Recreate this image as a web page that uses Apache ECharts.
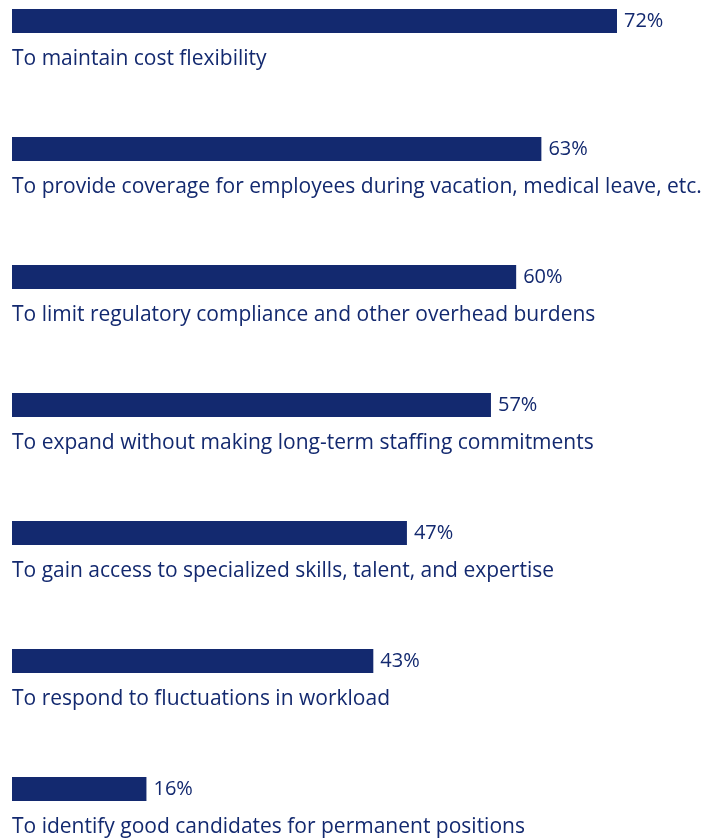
<!DOCTYPE html>
<html>
<head>
<meta charset="utf-8">
<script src="https://cdn.jsdelivr.net/npm/echarts@6/dist/echarts.min.js"></script>
<style>
  html, body { margin: 0; padding: 0; background: #ffffff; }
  #chart { width: 725px; height: 838px; }
</style>
</head>
<body>
<div id="chart"></div>
<script>
// Reasons for using contingent workers (share of respondents)
const categories = [
  'To maintain cost flexibility',
  'To provide coverage for employees during vacation, medical leave, etc.',
  'To limit regulatory compliance and other overhead burdens',
  'To expand without making long-term staffing commitments',
  'To gain access to specialized skills, talent, and expertise',
  'To respond to fluctuations in workload',
  'To identify good candidates for permanent positions'
];
const values = [72, 63, 60, 57, 47, 43, 16];

const navy = '#13296f';
const fontFamily = '"Open Sans", "Liberation Sans", sans-serif';

const chart = echarts.init(document.getElementById('chart'), null, { renderer: 'canvas' });

chart.setOption({
  animation: false,
  // first and last bar centres sit on the grid edges
  grid: { left: 12, width: 605, top: 21, height: 768 },
  xAxis: {
    type: 'value', min: 0, max: 72, show: false
  },
  yAxis: {
    type: 'category', data: categories, inverse: true, show: false,
    boundaryGap: false
  },
  series: [
    {
      type: 'bar',
      data: values,
      barWidth: 24,
      itemStyle: { color: navy },
      label: {
        show: true,
        position: 'right',
        distance: 7,
        formatter: p => p.value + '%',
        color: navy,
        fontFamily,
        fontSize: 20
      }
    },
    {
      // category names written under each bar
      type: 'bar',
      data: values,
      barWidth: 24,
      barGap: '-100%',
      itemStyle: { color: 'transparent' },
      silent: true,
      label: {
        show: true,
        position: [0, 40],
        align: 'left',
        verticalAlign: 'top',
        formatter: p => p.name,
        color: navy,
        fontFamily,
        fontSize: 21
      }
    }
  ]
});
</script>
</body>
</html>
